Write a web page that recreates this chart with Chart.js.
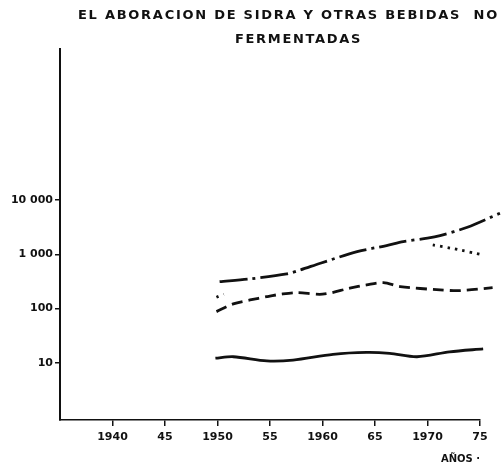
<!DOCTYPE html>
<html>
<head>
<meta charset="utf-8">
<script src="https://cdn.jsdelivr.net/npm/chart.js@4/dist/chart.umd.min.js"></script>
<style>
  html, body { margin: 0; padding: 0; background: #fff; }
</style>
</head>
<body>
<canvas id="chart" width="502" height="465"></canvas>
<script>
// title and axis texts
const titleLines = ['EL ABORACION DE SIDRA Y OTRAS BEBIDAS  NO', 'FERMENTADAS'];
const xAxisTitle = 'AÑOS ·';

// ticks
const xTickYears = [1940, 1945, 1950, 1955, 1960, 1965, 1970, 1975];
const xTickLabels = ['1940', '45', '1950', '55', '1960', '65', '1970', '75'];
const yTickValues = [10, 100, 1000, 10000];
const yTickLabels = ['10', '100', '1 000', '10 000'];

// series (log scale)
const solidYears  = [1949.8, 1951.5, 1954.7, 1957.2, 1961.0, 1964.2, 1966.4, 1969.0, 1972.1, 1975.3];
const solidValues = [12.2, 13.0, 10.9, 11.3, 14.4, 15.6, 15.0, 13.0, 16.0, 18.1];

const dashDotYears  = [1950.2, 1953.1, 1956.6, 1957.9, 1959.8, 1963.3, 1966.1, 1967.7, 1970.0, 1971.2, 1973.8, 1976.9];
const dashDotValues = [313, 352, 434, 515, 684, 1119, 1444, 1711, 1975, 2205, 3150, 5700];

const dashedYears  = [1949.9, 1951.5, 1953.1, 1954.7, 1956.2, 1957.6, 1960.0, 1962.6, 1964.2, 1965.8, 1967.4, 1971.2, 1973.1, 1976.2];
const dashedValues = [88, 122, 144, 166, 186, 197, 184, 237, 273, 301, 254, 221, 214, 243];

const dottedYears  = [1949.9, 1950.6, 1960.0, 1970.5, 1972.6, 1975.3];
const dottedValues = [162, 184, null, 1487, 1254, 973];

const fontFamily = '"DejaVu Sans", "Liberation Sans", Arial, sans-serif';

function toPoints(xs, ys) {
  return xs.map((x, i) => ({ x: x, y: ys[i] }));
}

// stretch a title line over the width it takes in the scan
function drawSpaced(ctx, text, x, y, targetWidth) {
  ctx.letterSpacing = '0px';
  const w = ctx.measureText(text).width;
  const s = (targetWidth - w) / text.length;
  ctx.letterSpacing = s + 'px';
  ctx.fillText(text, x, y);
  ctx.letterSpacing = '0px';
}

const scanTitle = {
  id: 'scanTitle',
  afterDraw(chart) {
    const ctx = chart.ctx;
    ctx.save();
    ctx.fillStyle = '#111';
    ctx.font = 'bold 13px ' + fontFamily;
    ctx.textAlign = 'left';
    ctx.textBaseline = 'middle';
    drawSpaced(ctx, titleLines[0], 78, 16, 421);
    drawSpaced(ctx, titleLines[1], 235, 39.5, 127);
    ctx.restore();
  }
};

const lineBase = {
  borderColor: '#111',
  borderWidth: 2.8,
  pointRadius: 0,
  tension: 0.3,
  fill: false,
  clip: false,
  spanGaps: false,
  borderCapStyle: 'butt'
};

Chart.defaults.font.family = fontFamily;
Chart.defaults.color = '#111';

const chart = new Chart(document.getElementById('chart').getContext('2d'), {
  type: 'line',
  data: {
    datasets: [
      Object.assign({}, lineBase, { label: 'solid', data: toPoints(solidYears, solidValues) }),
      Object.assign({}, lineBase, { label: 'dash-dot', data: toPoints(dashDotYears, dashDotValues), borderDash: [28, 5, 3, 5] }),
      Object.assign({}, lineBase, { label: 'dashed', data: toPoints(dashedYears, dashedValues), borderDash: [11, 6] }),
      Object.assign({}, lineBase, { label: 'dotted', data: toPoints(dottedYears, dottedValues), borderDash: [2.5, 5], tension: 0.2 })
    ]
  },
  options: {
    responsive: false,
    devicePixelRatio: 1,
    animation: false,
    layout: { padding: { top: 49, right: 22, left: 0, bottom: 0 } },
    plugins: {
      legend: { display: false },
      tooltip: { enabled: false },
      title: { display: false }
    },
    scales: {
      x: {
        type: 'linear',
        min: 1935,
        max: 1975,
        bounds: 'data',
        afterBuildTicks: (scale) => { scale.ticks = xTickYears.map(v => ({ value: v })); },
        afterFit: (scale) => { scale.height = 45; },
        grid: { drawOnChartArea: false, drawTicks: true, tickLength: 6, color: '#111', lineWidth: 1.5 },
        border: { display: true, color: '#111', width: 1.6 },
        ticks: {
          autoSkip: false,
          maxRotation: 0,
          padding: 5,
          font: { size: 11, weight: 'bold' },
          callback: (value) => {
            const i = xTickYears.indexOf(value);
            return i >= 0 ? xTickLabels[i] : '';
          }
        },
        title: {
          display: true,
          text: xAxisTitle,
          align: 'end',
          padding: { top: 0, bottom: 0 },
          font: { size: 10, weight: 'bold' }
        }
      },
      y: {
        type: 'logarithmic',
        min: 0.89,
        max: 6.0e6,
        bounds: 'data',
        afterBuildTicks: (scale) => { scale.ticks = yTickValues.map(v => ({ value: v })); },
        afterFit: (scale) => { scale.width = 60; },
        grid: { drawOnChartArea: false, drawTicks: true, tickLength: 5, color: '#111', lineWidth: 1.5 },
        border: { display: true, color: '#111', width: 2 },
        ticks: {
          autoSkip: false,
          padding: 2,
          font: { size: 11, weight: 'bold' },
          callback: (value) => {
            const i = yTickValues.indexOf(value);
            return i >= 0 ? yTickLabels[i] : '';
          }
        }
      }
    }
  },
  plugins: [scanTitle]
});
</script>
</body>
</html>
